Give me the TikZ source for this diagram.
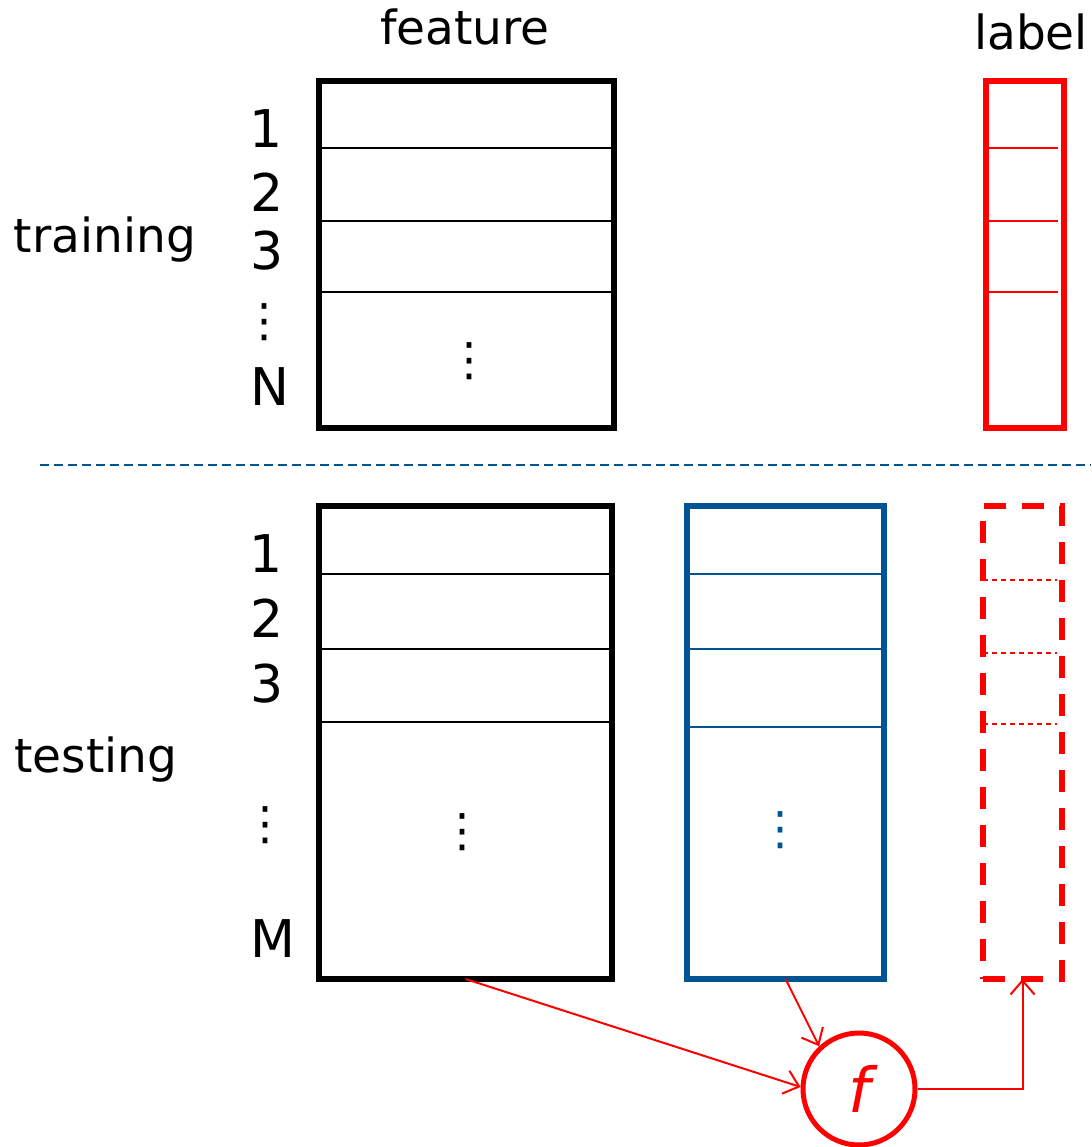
\documentclass[tikz,border=0pt]{standalone}
\usepackage{fontspec}
\setmainfont{DejaVu Sans}
\usetikzlibrary{arrows.meta}
\definecolor{dblue}{RGB}{0,84,147}
\definecolor{pred}{RGB}{255,0,0}
\begin{document}
\begin{tikzpicture}[x=1pt,y=-1pt,
  mat/.style={draw, rectangle, line width=5.5pt, inner sep=0pt, outer sep=0pt},
  word/.style={font=\fontsize{47}{56}\selectfont, inner sep=0pt, anchor=base},
  idx/.style={font=\fontsize{52}{62}\selectfont, inner sep=0pt, anchor=base},
  vdots/.style={font=\fontsize{46}{56}\selectfont, inner sep=0pt},
  row/.style={line width=1.8pt},
  flow/.style={pred, line width=2pt, -{Straight Barb[length=14pt,width=24pt,line width=2pt]}}]
\useasboundingbox (0,0) rectangle (1091,1147);

% column headings and section labels
\node[word] (hfeat) at (465,45) {feature};
\node[word] (hlab) at (1031,50) {label};
\node[word] (htrain) at (105,253) {training};
\node[word] (htest) at (96,772) {testing};

% training data
\node[mat, minimum width=295pt, minimum height=347pt] (trfeat) at (466.5,254.5) {};
\foreach \y in {148,221,292}
  \draw[row] (trfeat.west |- 0,\y) -- (trfeat.east |- 0,\y);
\node[vdots] (trdots) at (469,361) {⋮};

\node[mat, draw=pred, minimum width=78pt, minimum height=347pt] (trlab) at (1025,254.5) {};
\foreach \y in {148,221,292}
  \draw[row, pred] (trlab.west |- 0,\y) -- (1058,\y);

\node[idx] (tr1) at (266,148) {1};
\node[idx] (tr2) at (267,212) {2};
\node[idx] (tr3) at (267,270) {3};
\node[vdots] (trv) at (264,322) {⋮};
\node[idx] (trN) at (270,405) {N};

% separator
\draw[dblue, line width=2pt, dash pattern=on 9pt off 5pt] (40,465) -- (1091,465);

% testing data
\node[mat, minimum width=293pt, minimum height=473pt] (tefeat) at (465.5,742.5) {};
\foreach \y in {574,649,722}
  \draw[row] (tefeat.west |- 0,\y) -- (tefeat.east |- 0,\y);
\node[vdots] (tedots) at (462,832) {⋮};

\node[mat, draw=dblue, minimum width=197pt, minimum height=473pt] (teblue) at (785.5,742.5) {};
\foreach \y in {574,649,727}
  \draw[row, dblue] (teblue.west |- 0,\y) -- (teblue.east |- 0,\y);
\node[vdots, text=dblue] (bldots) at (780,830) {⋮};

\node[mat, draw=pred, dash pattern=on 22pt off 16pt, minimum width=79pt, minimum height=473pt] (telab) at (1022.5,742.5) {};
\foreach \y in {580,653,724}
  \draw[row, pred, dash pattern=on 5pt off 4pt] (telab.west |- 0,\y) -- (1057,\y);

\node[idx] (te1) at (266,572) {1};
\node[idx] (te2) at (267,637) {2};
\node[idx] (te3) at (267,702) {3};
\node[vdots] (tev) at (265,825) {⋮};
\node[idx] (teM) at (273,957) {M};

% the learned function
\node[circle, draw=pred, line width=5pt, minimum size=112pt, inner sep=0pt,
      text=pred, font=\fontsize{62}{70}\selectfont\itshape] (f) at (859,1089) {f};

\draw[flow] (tefeat.south) -- (f.178);
\draw[flow] (teblue.south) -- (f.133);
\draw[flow] (f.east) -| (telab.south);
\end{tikzpicture}
\end{document}
